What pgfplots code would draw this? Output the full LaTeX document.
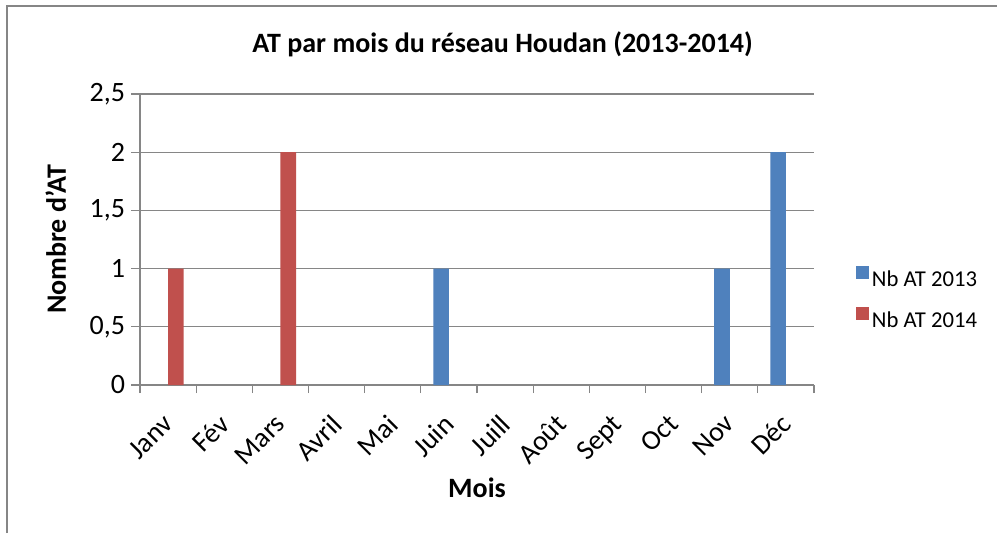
\documentclass[border=0pt]{standalone}
\usepackage{pgfplots}
\pgfplotsset{compat=1.18}
\usepackage{fontspec}
\setmainfont{Carlito}
\definecolor{c13}{HTML}{4F81BD}
\definecolor{c14}{HTML}{C0504D}
\definecolor{gridc}{HTML}{868686}
\begin{document}
\begin{tikzpicture}
\useasboundingbox (0,0) rectangle (747.75pt,399.75pt);
\fill[white] (0,0) rectangle (747.75pt,399.75pt);
\draw[gridc, line width=1.1pt] (5.25pt,0) -- (5.25pt,395.25pt) -- (747.75pt,395.25pt);
\begin{axis}[
  at={(105pt,111pt)}, anchor=south west,
  scale only axis, width=505.5pt, height=218.25pt,
  ybar=0pt, bar width=11.7pt,
  xmin=-0.5, xmax=11.5, ymin=0, ymax=2.5,
  axis x line*=bottom, axis y line*=left,
  axis line style={gridc, line width=0.9pt},
  ytick={0,0.5,1,1.5,2,2.5},
  yticklabels={0,{0,5},1,{1,5},2,{2,5}},
  ymajorgrids, grid style={gridc, line width=0.9pt},
  xtick={0,...,11},
  xticklabels={Janv,Fév,Mars,Avril,Mai,Juin,Juill,Août,Sept,Oct,Nov,Déc},
  minor xtick={-0.5,0.5,...,11.5},
  tick align=outside,
  major tick length=6.75pt, minor tick length=6pt,
  x tick style={draw=none},
  minor x tick style={draw=gridc, line width=0.9pt},
  y tick style={gridc, line width=0.9pt},
  /pgf/number format/assume math mode=true,
  ticklabel style={font=\fontsize{21}{25}\selectfont},
  xticklabel style={xshift=-5pt, yshift=-12.5pt, rotate=45, anchor=north east, inner sep=1pt},
  yticklabel style={xshift=-1pt},
  xlabel={\textbf{Mois}},
  xlabel style={font=\fontsize{21}{25}\selectfont, at={(axis description cs:0.5,-0.385)}, anchor=base},
  ylabel={\textbf{Nombre d'AT}},
  ylabel style={font=\fontsize{21}{25}\selectfont, at={(axis description cs:-0.1098,0.5)}, anchor=base},
  title={\textbf{AT par mois du réseau Houdan (2013-2014)}},
  title style={font=\fontsize{21}{25}\selectfont, at={(axis description cs:0.538,1.141)}, anchor=base, yshift=-6pt},
  legend style={draw=none, fill=none, inner sep=0pt, font=\fontsize{17}{20}\selectfont,
    at={(axis description cs:1.0623,0.41)}, anchor=north west, row sep=12pt,
    legend cell align=left},
  legend image code/.code={\fill[#1] (0pt,0.5pt) rectangle (9.75pt,10.25pt);},
]
\addplot[fill=c13, draw=none] coordinates {(5,1) (10,1) (11,2)};
\addplot[fill=c14, draw=none] coordinates {(0,1) (2,2)};
\legend{Nb AT 2013, Nb AT 2014}
\end{axis}
\end{tikzpicture}
\end{document}
